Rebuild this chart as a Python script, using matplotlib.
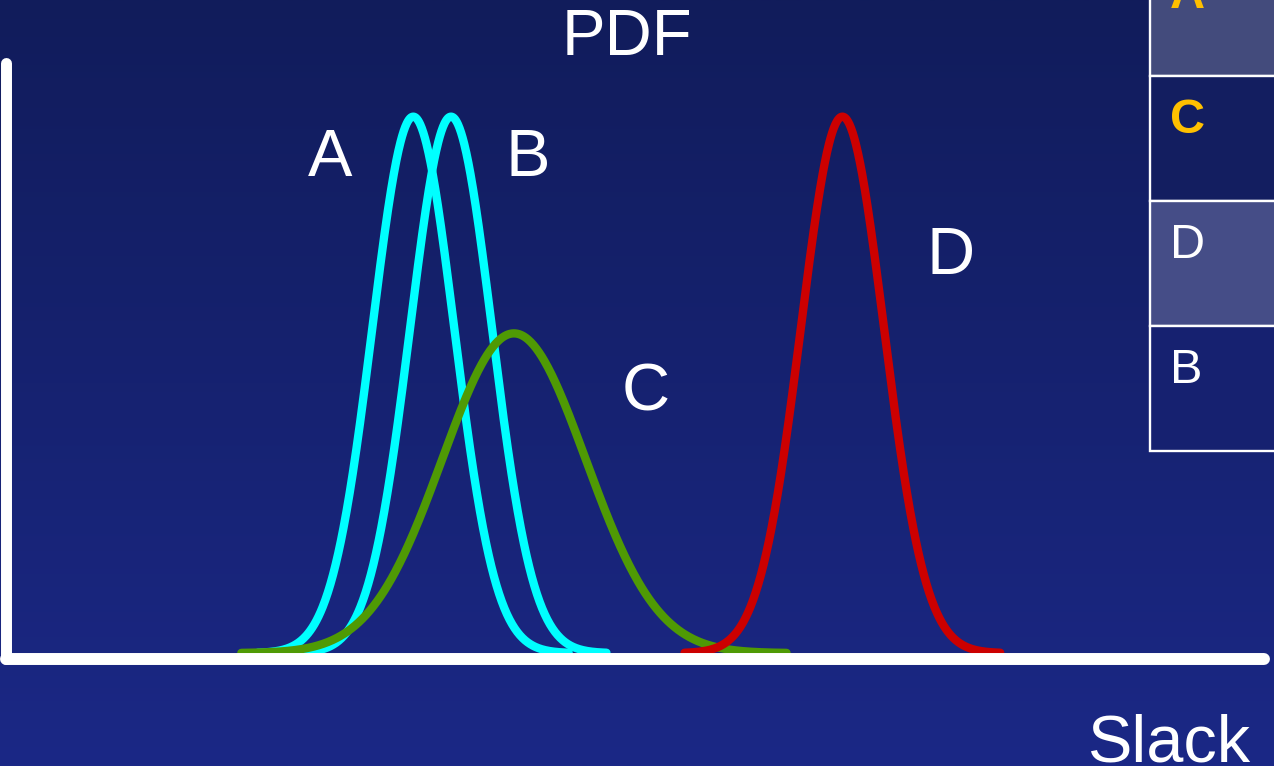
import numpy as np
import matplotlib.pyplot as plt
from matplotlib.patches import Rectangle
from matplotlib.colors import LinearSegmentedColormap

# Slack distributions of the four paths
names = ["A", "B", "C", "D"]
means = [3.24, 3.54, 4.04, 6.65]
sigmas = [0.325, 0.325, 0.57, 0.33]
peaks = [1.0, 1.0, 0.596, 1.0]
colors = ["#00ffff", "#00ffff", "#4f9a04", "#cc0000"]

# labels next to the curves (x, y in slack / pdf units)
label_x = [2.58, 4.15, 5.09, 7.51]
label_y = [0.890, 0.890, 0.452, 0.706]

# ranking table on the right
table_labels = ["A", "C", "D", "B"]
table_colors = ["#434b7c", "#131e60", "#454d87", "#162170"]
table_text_colors = ["#ffc000", "#ffc000", "white", "white"]
table_weights = ["bold", "bold", "normal", "normal"]

W, H = 1274, 766
fig = plt.figure(figsize=(W / 100, H / 100), dpi=100)
plt.rcParams['font.family'] = ['Liberation Sans', 'DejaVu Sans']

# gradient background
bg = fig.add_axes([0, 0, 1, 1], zorder=-2)
cmap = LinearSegmentedColormap.from_list("bg", ["#111c5b", "#1b2886"])
bg.imshow(np.linspace(0, 1, 256).reshape(-1, 1), aspect="auto", cmap=cmap,
          extent=[0, 1, 0, 1])
bg.set_axis_off()

# main axes
left, right, bottom, top = 5.5, 1264, 659, 63
ax = fig.add_axes([left / W, (H - bottom) / H, (right - left) / W, (bottom - top) / H])
ax.patch.set_alpha(0)
ax.set_xlim(0, 10)
ax.set_ylim(-0.011, 1.1)

for name, mu, s, pk, c in zip(names, means, sigmas, peaks, colors):
    # only draw the curve out to where it meets the axis
    x = np.linspace(mu - 3.8 * s, mu + 3.8 * s, 600)
    y = pk * np.exp(-0.5 * ((x - mu) / s) ** 2)
    ax.plot(x, y, color=c, lw=6.0, solid_capstyle='round', zorder=2)

for name, lx, ly in zip(names, label_x, label_y):
    ax.text(lx, ly, name, color="white", fontsize=48, ha="center", va="baseline")

for side in ["top", "right"]:
    ax.spines[side].set_visible(False)
ax.spines["left"].set_linewidth(7.9)
ax.spines["bottom"].set_linewidth(8.6)
for side in ["left", "bottom"]:
    ax.spines[side].set_color("white")
    ax.spines[side].set_capstyle("round")
    ax.spines[side].set_zorder(5)
ax.set_xticks([])
ax.set_yticks([])

fig.text(627 / W, (H - 55) / H, "PDF", color="white", fontsize=47,
         ha="center", va="baseline")
fig.text(1169 / W, (H - 761) / H, "Slack", color="white", fontsize=48,
         ha="center", va="baseline")

# table overlay in pixel coords
ov = fig.add_axes([0, 0, 1, 1], zorder=3)
ov.set_xlim(0, W)
ov.set_ylim(H, 0)
ov.set_axis_off()
row_h = 125
row0 = -49
for i, (lab, fc, tc, fw) in enumerate(zip(table_labels, table_colors,
                                          table_text_colors, table_weights)):
    y0 = row0 + i * row_h
    ov.add_patch(Rectangle((1149.5, y0), 140, row_h, facecolor=fc,
                           edgecolor="white", lw=1.7))
    ov.text(1170, y0 + 57, lab, color=tc, fontsize=35, fontweight=fw,
            ha="left", va="baseline")

fig.savefig("out.png", dpi=100)
